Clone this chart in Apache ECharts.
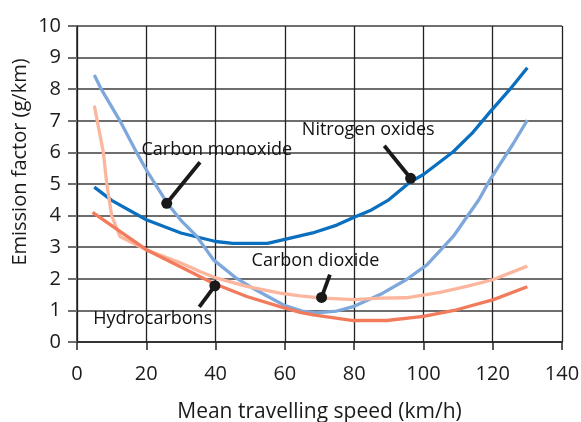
<!DOCTYPE html>
<html>
<head>
<meta charset="utf-8">
<script src="https://cdn.jsdelivr.net/npm/echarts@6/dist/echarts.min.js"></script>
<style>html,body{margin:0;padding:0;background:#fff;}#c{width:581px;height:422px;}</style>
</head>
<body>
<div id="c"></div>
<script>
// ---- data (x = mean speed km/h, y = emission factor g/km) ----
const xTicks = [0, 20, 40, 60, 80, 100, 120, 140];
const yTicks = [0, 1, 2, 3, 4, 5, 6, 7, 8, 9, 10];

const nitrogenOxides = [[5,4.9],[10,4.48],[20,3.87],[30,3.45],[40,3.18],[45,3.12],[55,3.12],[60,3.25],[68,3.45],[75,3.7],[80,3.95],[85,4.18],[90,4.5],[96,5.05],[100,5.3],[108.6,6.02],[114,6.6],[119,7.25],[125,8.0],[130,8.68]];
const carbonMonoxide = [[5,8.45],[7,8.0],[12.4,7.0],[17.2,6.0],[20,5.45],[26,4.4],[30,3.85],[34.6,3.34],[39.4,2.6],[46,2.02],[50,1.75],[55,1.45],[60,1.15],[65,0.98],[69,0.92],[75,0.98],[80,1.13],[87.5,1.5],[95,1.97],[101,2.44],[108.6,3.34],[116,4.5],[119.2,5.13],[126,6.29],[130,7.02]];
const carbonDioxide = [[5,7.48],[7.6,6.0],[8.6,5.0],[10,4.0],[12.4,3.34],[20,2.92],[30,2.5],[35.5,2.23],[40.3,2.02],[49,1.76],[58.6,1.55],[64.4,1.46],[71,1.39],[80,1.34],[87.5,1.39],[95,1.4],[104.8,1.57],[112.5,1.76],[120,1.97],[130,2.4]];
const hydrocarbons = [[4.5,4.1],[12.4,3.5],[20,2.92],[29.7,2.39],[39.3,1.86],[49,1.44],[58.6,1.12],[64.4,0.94],[68.2,0.86],[79.8,0.68],[89.4,0.68],[100,0.81],[109.6,1.02],[120.2,1.34],[130,1.75]];

// annotations: label text, label anchor (left-middle), leader start, dot on curve
const annoNames = ["Carbon monoxide", "Nitrogen oxides", "Carbon dioxide", "Hydrocarbons"];
const annoLabelAt = [[18.6,6.08],[64.9,6.71],[50.4,2.57],[4.7,0.73]];
const annoLeaderEnd = [[35.5,5.69],[88.7,6.21],[73.0,2.13],[35.3,1.11]];
const annoDot = [[25.9,4.39],[96.3,5.18],[70.6,1.41],[39.8,1.78]];

const FONT = "Open Sans";
const TXT = "#1c1a1b";

const chart = echarts.init(document.getElementById('c'), null, {renderer:'canvas'});

const curveSeries = [
  {name:'Nitrogen oxides', data:nitrogenOxides, color:'#0a6fbf'},
  {name:'Carbon monoxide', data:carbonMonoxide, color:'#7ea8dc'},
  {name:'Carbon dioxide', data:carbonDioxide, color:'#fbb69d'},
  {name:'Hydrocarbons', data:hydrocarbons, color:'#f27b5c'}
].map(s => ({
  type:'line', name:s.name, data:s.data, showSymbol:false, symbol:'none',
  lineStyle:{color:s.color, width:3.3}, itemStyle:{color:s.color}, z:3, silent:true
}));

const leaderSeries = annoNames.map((n,i) => ({
  type:'line', name:'leader'+i, data:[annoLeaderEnd[i], annoDot[i]],
  showSymbol:false, symbol:'none', lineStyle:{color:'#1a1a1a', width:3.8}, z:5, silent:true
}));

const dotSeries = {
  type:'scatter', data:annoDot, symbol:'circle', symbolSize:11,
  itemStyle:{color:'#1a1a1a', opacity:1}, z:6, silent:true
};

const labelSeries = {
  type:'scatter', data:annoLabelAt.map((p,i)=>({value:p, name:annoNames[i]})), symbolSize:0,
  itemStyle:{opacity:1},
  label:{show:true, position:'right', distance:0, formatter:p=>p.name,
         fontFamily:FONT, fontSize:18, color:'#111', opacity:1},
  z:7, silent:true
};

chart.setOption({
  animation:false,
  backgroundColor:'#ffffff',
  grid:{left:77, right:19, top:26, bottom:80, containLabel:false, outerBoundsMode:'none'},
  xAxis:{
    type:'value', min:xTicks[0], max:xTicks[xTicks.length-1], interval:20,
    name:'Mean travelling speed (km/h)', nameLocation:'middle', nameGap:60,
    nameTextStyle:{fontFamily:FONT, fontSize:21, color:TXT},
    axisLine:{show:true, onZero:false, lineStyle:{color:'#222', width:1.5}},
    axisTick:{show:true, length:8, inside:false, lineStyle:{color:'#222', width:1.5}},
    axisLabel:{fontFamily:FONT, fontSize:20, color:TXT, margin:22},
    splitLine:{show:true, lineStyle:{color:'#222', width:1.3}}
  },
  yAxis:{
    type:'value', min:yTicks[0], max:yTicks[yTicks.length-1], interval:1,
    axisLine:{show:true, onZero:false, lineStyle:{color:'#222', width:1.5}},
    axisTick:{show:true, length:9, inside:false, lineStyle:{color:'#6e6e6e', width:2}},
    axisLabel:{fontFamily:FONT, fontSize:20, color:TXT, margin:16},
    splitLine:{show:true, lineStyle:{color:'#6e6e6e', width:2}}
  },
  graphic:[{
    type:'text', x:20, y:162, rotation:Math.PI/2,
    style:{text:'Emission factor (g/km)', fontFamily:FONT, fontSize:20, fill:TXT,
           textAlign:'center', textVerticalAlign:'middle'}
  }],
  series:[...curveSeries, ...leaderSeries, dotSeries, labelSeries]
});
</script>
</body>
</html>
